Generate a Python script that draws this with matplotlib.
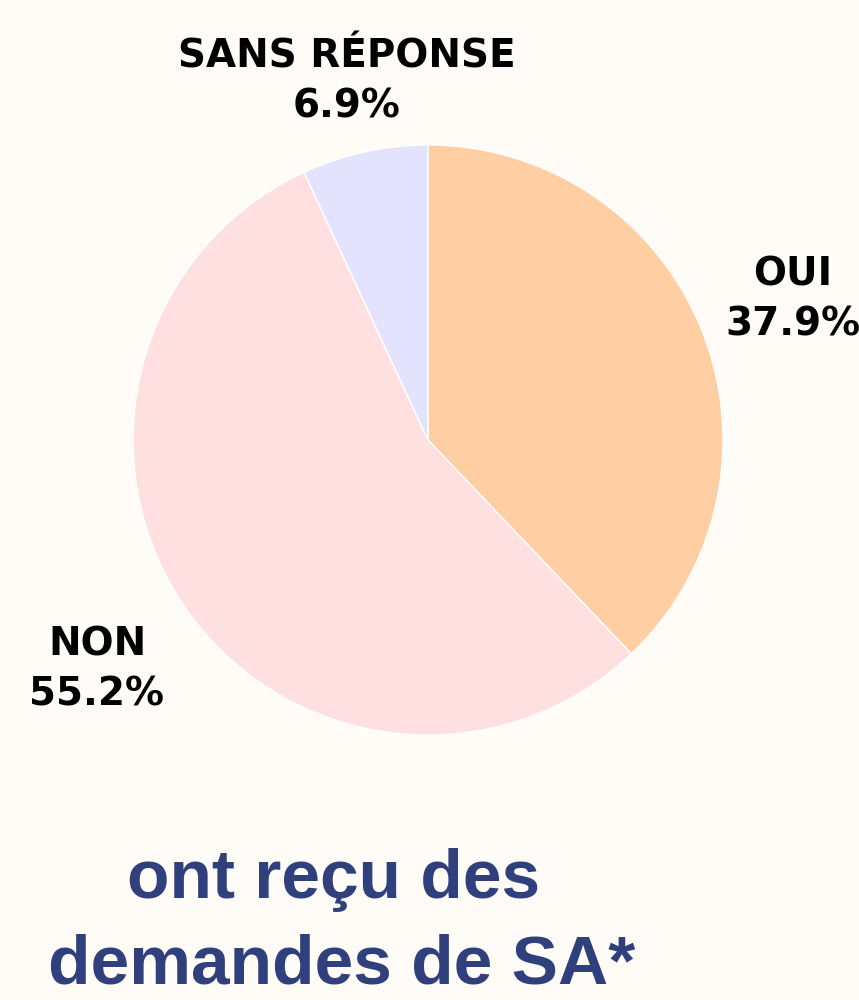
import matplotlib.pyplot as plt

# categories and shares (percent)
labels = ["OUI", "NON", "SANS RÉPONSE"]
shares = [37.9, 55.2, 6.9]
colors = ["#FFCFA3", "#FFE0E1", "#E4E3FE"]

bg = "#FFFBF6"
navy = "#2F407D"

fig = plt.figure(figsize=(8.59, 10), dpi=100, facecolor=bg)
ax = fig.add_axes([0, 0, 1, 1])
ax.set_facecolor(bg)

ax.pie(shares, colors=colors, startangle=90, counterclock=False,
       center=(428, 560), radius=295,
       wedgeprops=dict(edgecolor="white", linewidth=1))

# pie() resets the limits, so set them afterwards
ax.set_xlim(0, 859)
ax.set_ylim(0, 1000)
ax.set_aspect("equal")
ax.axis("off")

# label positions: x centre, baseline of first line (pixels from bottom)
label_pos = {"OUI": (793, 715), "NON": (97, 345), "SANS RÉPONSE": (347, 933)}
for lab, val in zip(labels, shares):
    x, y = label_pos[lab]
    ax.text(x, y, lab, ha="center", va="baseline", fontsize=28,
            fontweight="bold", family="DejaVu Sans", color="black")
    ax.text(x, y - 51, f"{val}%", ha="center", va="baseline", fontsize=28,
            fontweight="bold", family="DejaVu Sans", color="black")

ax.text(334, 102, "ont reçu des", ha="center", va="baseline", fontsize=50,
        fontweight="bold", family="Liberation Sans", color=navy)
ax.text(342, 17, "demandes de SA*", ha="center", va="baseline", fontsize=50,
        fontweight="bold", family="Liberation Sans", color=navy)

fig.savefig("out.png", dpi=100, facecolor=bg)
